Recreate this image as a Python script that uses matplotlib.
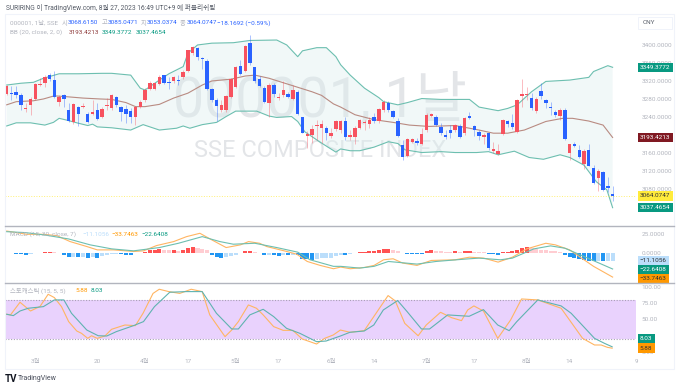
import numpy as np
import matplotlib
matplotlib.use('Agg')
import matplotlib.pyplot as plt
from matplotlib.patches import Rectangle

plt.rcParams['font.family'] = ['Roboto', 'Noto Sans CJK KR']
plt.rcParams['axes.unicode_minus'] = False

# candles, one value per trading day
opens = [3290,3293,3294,3287,3256,3265,3279,3309,3314,3332,
         3321,3272,3287,3255,3227,3262,3261,3245,3245,3255,
         3240,3264,3258,3283,3262,3257,3253,3238,3262,3277,
         3301,3302,3313,3332,3317,3318,3321,3327,3342,3381,
         3392,3369,3364,3301,3277,3255,3255,3284,3305,3352,
         3342,3403,3349,3323,3304,3270,3310,3281,3287,3290,
         3278,3295,3238,3197,3199,3219,3214,3214,3196,3212,
         3210,3229,3195,3194,3214,3225,3223,3238,3229,3254,
         3271,3253,3230,3177,3152,3184,3186,3178,3209,3241,
         3240,3216,3198,3209,3210,3220,3203,3241,3219,3206,
         3195,3203,3163,3156,3201,3229,3225,3206,3286,3288,
         3282,3253,3296,3277,3262,3251,3241,3254,3158,3180,
         3166,3135,3166,3125,3103,3116,3085,3068.6150]
closes = [3307,3289,3287,3266,3259,3279,3313,3313,3327,3323,
          3284,3284,3278,3229,3268,3245,3264,3227,3250,3235,
          3257,3266,3287,3265,3251,3245,3238,3262,3273,3298,
          3314,3314,3327,3314,3314,3327,3319,3339,3387,3394,
          3372,3367,3301,3276,3264,3265,3286,3323,3351,3335,
          3397,3358,3320,3308,3272,3310,3290,3284,3299,3284,
          3298,3246,3204,3201,3212,3221,3224,3204,3204,3229,
          3229,3195,3199,3214,3232,3228,3232,3229,3256,3273,
          3255,3240,3197,3149,3189,3189,3181,3201,3243,3245,
          3221,3204,3195,3203,3221,3195,3236,3237,3209,3197,
          3199,3169,3168,3163,3232,3223,3216,3277,3291,3291,
          3260,3280,3286,3269,3260,3243,3254,3189,3178,3175,
          3149,3164,3131,3092,3119,3077,3082,3064.0747]
highs = [3310,3308,3308,3292,3270,3284,3314,3325,3332,3336,
         3342,3288,3290,3270,3270,3264,3270,3251,3277,3270,
         3261,3281,3290,3286,3264,3266,3258,3264,3277,3303,
         3319,3315,3332,3333,3327,3330,3332,3344,3388,3397,
         3395,3373,3367,3303,3281,3277,3288,3325,3352,3366,
         3399,3421,3351,3329,3308,3314,3314,3292,3318,3295,
         3310,3299,3240,3207,3221,3233,3233,3218,3214,3233,
         3232,3240,3210,3218,3234,3232,3240,3247,3259,3277,
         3275,3255,3236,3188,3192,3192,3192,3214,3247,3247,
         3243,3225,3210,3221,3223,3223,3238,3249,3221,3210,
         3203,3204,3184,3179,3234,3232,3246,3280,3324,3305,
         3292,3284,3314,3280,3273,3254,3258,3258,3180,3184,
         3177,3167,3180,3132,3123,3118,3106,3085.0471]
lows = [3288,3277,3281,3255,3251,3244,3277,3307,3305,3318,
        3281,3264,3261,3227,3224,3218,3258,3225,3244,3233,
        3236,3255,3255,3262,3229,3225,3225,3221,3258,3273,
        3298,3299,3310,3313,3301,3314,3310,3323,3338,3377,
        3366,3345,3299,3273,3231,3251,3251,3281,3303,3332,
        3340,3355,3315,3305,3270,3240,3284,3277,3284,3281,
        3277,3244,3203,3170,3181,3188,3181,3188,3192,3207,
        3203,3188,3188,3180,3212,3210,3214,3225,3226,3251,
        3251,3236,3195,3144,3151,3182,3177,3176,3206,3238,
        3219,3199,3189,3192,3206,3192,3199,3234,3197,3188,
        3180,3166,3160,3155,3199,3217,3212,3203,3262,3277,
        3254,3247,3280,3258,3243,3240,3232,3188,3143,3173,
        3147,3123,3129,3090,3075,3075,3073,3053.0374]

# bollinger bands, read at the bends of each line
bb_up_day = [0,3,5.6,7.7,11,15,20,22,26,28,29,32,34,37,38,40,43,47.5,51,56.6,58.7,61,62,65,67,69,70,
             72,75,78,79,82,84,87,91,97,99,103,105,107,110,113,118,122,123,126,127]
bb_up = [3310,3314,3316,3325,3335,3335,3336,3336,3332,3303,3299,3321,3335,3351,3381,3399,3403,3404,3409,3410,3399,3373,3386,3393,3393,3373,3355,
         3332,3303,3282,3273,3266,3271,3280,3278,3278,3261,3253,3258,3266,3295,3318,3321,3327,3340,3353,3349.3772]
bb_mid_day = [0,2,5.6,7.7,10,12.6,16,19.6,22,25,27,29,32,35,38,41,43,47,50,52,55,58,61,64,66,68.5,70,
              73,77,81,84.4,88.5,94,99,102,105,108.5,113,116.5,118.6,122,125,127]
bb_mid = [3266,3273,3275,3279,3286,3284,3281,3279,3278,3271,3262,3262,3267,3281,3292,3310,3319,3323,3330,3332,3325,3315,3305,3295,3287,3268,3261,
          3244,3233,3227,3221,3218,3220,3210,3203,3203,3210,3229,3236,3236,3230,3221,3193.4213]
bb_low_day = [0,2,5,8,9.8,11,12.6,14.7,17,18,19,22,26,28.6,32,35.6,37,38.4,41,44,46,48,52.4,55,56.6,59.7,61,62.5,65.7,69,70,
              72,74,77,80,82,83.5,87,91,94,98.5,101,103,106.4,109.5,112.5,116,118,121,123.6,125.8,127]
bb_low = [3219,3226,3226,3221,3227,3236,3232,3226,3220,3223,3217,3215,3210,3222,3210,3214,3219,3214,3222,3227,3240,3252,3252,3241,3238,3240,3229,3206,3183,3161,3168,
          3164,3164,3172,3184,3180,3166,3160,3162,3160,3160,3162,3155,3163,3149,3145,3155,3149,3132,3095,3077,3037.4654]

# macd
macd_hist = [-0.5,-0.4,-1.5,-2,-3,-2,-1,-0.5,0.5,0.6,
             0.3,-0.5,-3,-6,-5.8,-6.5,-6,-7,-6.5,-7,
             -5,-3,-2,-1.5,-2.5,-3,-3.2,-1,-0.5,1,
             3,4,5,4,3.5,4,2,3.5,6,7.5,
             6,5,3,-4,-6,-7,-6,-5,-3,-1,
             2,2.2,0.7,-0.5,-4,-3,-4,-4.2,-3,-4,
             -3,-4,-9,-9.2,-10,-9,-8,-7.5,-7,-5,
             -3,-3.2,-1.5,-1,0.3,1,2,2.5,3,5,
             5.2,3,1.5,-1,-2,-2.1,-2.2,-2.3,1.5,3,
             2,1.5,1,0.7,1.5,0.7,1.5,2,1,0.5,
             0.2,-1.5,-2,-3,0.5,1,1.5,4,6,7,
             6,5,4,3,2.5,2,1,-4,-6,-8,
             -9,-10,-11,-11.5,-11,-12,-11.5,-11.1056]
macd_day = [0,4.2,7.7,10.5,13.3,16.8,19,22.4,26.6,28.7,31.4,35,37.7,40.5,43,46,49,50.7,53,54.5,58.7,60.8,63,65.7,68.5,70,
            72,75,77,79,81,83,86,89,94,97,100,103,106,109,113,115,118,123,127]
macd_line = [29.5,25,25,23.2,15,8.2,3.6,3.6,1.4,2.3,9.5,15,21.8,26.4,17.3,6.8,10.5,15,12.7,8.2,1.4,-2.3,-12.3,-17.7,-22.3,-20,
             -22.3,-20.5,-17.7,-10,-8.6,-14.5,-17.7,-10.9,-10,-6.4,-7.7,-13.2,-6.4,5,12.7,10.5,3.6,-19,-33.7463]
signal_day = [0,4,8,13,17.5,22,26.6,32,36,41,44.7,47.5,52,56.6,61,63.6,68.5,70,74,77,80,86,90,96,99,103.5,106,110.5,114,117,121,127]
signal_line = [28.6,27.3,24,18.6,10.5,5,2.3,6.8,12.7,21.8,15,11.4,12.7,6.8,0.5,-10,-19,-19,-21.4,-19,-12.3,-15.9,-12.3,-9.1,-7.7,-10,-7.7,5,9.1,5.9,-5.5,-22.6408]

# stochastic
k_day = [0,0.8,2.8,5,7,8.7,10,11.5,13,14.7,15.7,17,17.8,19,20.6,22,24.8,27,28.6,30.7,32,34,36.3,38.7,41,42.6,45.8,47.2,48.6,50.7,52.4,53.8,56,58,60,62,65,66.7,68.5,70,
         72,75,77,80,81.5,83.5,86.3,88,91,93.3,95.4,96.7,98,100,103,105.7,108,111.4,116.3,120.8,123.3,124.7,126,127]
k_line = [58,57,76.4,63,70,88.7,83.6,69.7,46.7,32.3,28.7,21,25,21,24.6,34.9,41.5,40.5,59.5,90,96.4,92.8,90,96.4,92.8,57,23.6,33.8,46.7,72.3,67.2,57,39,33.3,33.3,20,12.3,21,26.2,33.8,
          30.3,32.8,54.4,86.7,78.5,44,25,41.5,61,52.8,48.2,64.6,70.8,63,21,49.2,81.5,80,67.2,21,10.8,10.8,7.2,5.88]
d_day = [0,1.4,2.8,4.5,7.7,10,12,13.6,16.8,19.2,21,23,26.6,28.7,31,34.2,37.7,41,44,47.2,48.6,51,53.8,56,58.7,61.5,65,67,70,
         72,75,77,79,82,84,87,88.7,92.5,97,100,103,105.4,107,111.4,116.3,118.4,123.3,125.4,127]
d_line = [58,55.9,63,67.2,69.7,80,80,59.5,33.8,25,24.6,31.3,40.5,46.7,69.7,91.8,92.8,92.8,59.5,35.4,35.4,57,65.6,54.4,36.4,28.7,15.9,16.9,24.6,
          30.3,32.3,41.5,64.6,79,62,35.4,35.4,57,54.9,65.1,41.5,32.8,46.7,80,70.8,59.5,21,13.3,8.03]

# time axis
time_ticks = [6,19,29,38,48,57,68,77,88,98,109,118,132]
time_labels = ['3월','20','4월','17','5월','17','6월','14','7월','17','8월','14','9']
price_ticks = [3080,3120,3160,3240,3280,3320,3360,3400]
macd_ticks = [0,25]
stoch_ticks = [0,50,75,100]

W = 680
H = 388
UP = '#F7525F'
DOWN = '#2962FF'
TEAL = '#089981'
BAND = '#6DBFB0'
BROWN = '#B98B82'
ORANGE = '#FF9800'
GREY = '#B2B5BE'
BLUE_TXT = '#2962FF'
SMALL = 4.6


def addPane(fig, top, bottom):
    ax = fig.add_axes([5 / W, 1 - bottom / H, 631 / W, (bottom - top) / H])
    for s in ax.spines.values():
        s.set_visible(False)
    ax.yaxis.tick_right()
    ax.tick_params(axis='y', length=0, labelsize=SMALL, labelcolor=GREY, pad=4)
    ax.tick_params(axis='x', length=0, labelbottom=False)
    ax.set_xlim(-0.35, 131.9)
    return ax


def priceTag(ax, pos, text, bg, fg='white'):
    ax.text(1.0062, pos, text, transform=ax.get_yaxis_transform(), fontsize=SMALL, color=fg,
            va='center', ha='left', zorder=10, clip_on=False,
            bbox=dict(boxstyle='square,pad=0.36', fc=bg, ec='none'))


def figText(fig, x, y, text, **kw):
    fig.text(x / W, 1 - y / H, text, va='center', **kw)


fig = plt.figure(figsize=(6.8, 3.88), dpi=100, facecolor='white')

# painel principal
ax = addPane(fig, 14, 225)
ax.set_ylim(2999, 3467.8)
days = np.arange(len(opens))
opens_a = np.array(opens)
closes_a = np.array(closes)
colors = [UP if c >= o else DOWN for o, c in zip(opens, closes)]

ax.text(0.499, 0.59, '000001, 1날', transform=ax.transAxes, fontsize=40, color='#E3E5E8',
        ha='center', va='center', zorder=0)
ax.text(0.5, 0.355, 'SSE COMPOSITE INDEX', transform=ax.transAxes, fontsize=17, color='#E3E5E8',
        ha='center', va='center', zorder=0)

ax.fill(bb_up_day + bb_low_day[::-1], bb_up + bb_low[::-1], color='#DCEFEF', alpha=0.4, lw=0, zorder=1)
ax.plot(bb_up_day, bb_up, color=BAND, lw=0.8, zorder=2)
ax.plot(bb_low_day, bb_low, color=BAND, lw=0.8, zorder=2)
ax.plot(bb_mid_day, bb_mid, color=BROWN, lw=0.8, zorder=2)
ax.axhline(closes[-1], color='#FFEB3B', lw=0.7, ls=':', alpha=0.7, zorder=2)

ax.vlines(days, lows, highs, colors=colors, lw=0.6, alpha=0.45, zorder=3)
ax.bar(days, np.abs(closes_a - opens_a), bottom=np.minimum(opens_a, closes_a), width=0.72,
       color=colors, lw=0, zorder=4)

ax.set_yticks(price_ticks)
ax.set_yticklabels(['%.4f' % t for t in price_ticks])
priceTag(ax, bb_up[-1], '%.4f' % bb_up[-1], TEAL)
priceTag(ax, bb_mid[-1], '%.4f' % bb_mid[-1], '#801922')
priceTag(ax, closes[-1], '%.4f' % closes[-1], '#FFEB3B', '#333333')
priceTag(ax, bb_low[-1], '%.4f' % bb_low[-1], TEAL)

# macd
ax2 = addPane(fig, 226, 282)
ax2.set_ylim(-40.5, 36.4)
hist_colors = []
for i, v in enumerate(macd_hist):
    rising = i == 0 or v > macd_hist[i - 1]
    if v >= 0:
        hist_colors.append('#FF5252' if rising else '#FFCDD2')
    else:
        hist_colors.append('#BBDEFB' if rising else '#2196F3')
ax2.bar(days, macd_hist, width=0.85, color=hist_colors, lw=0, zorder=2)
ax2.plot(macd_day, macd_line, color='#FFB562', lw=0.8, zorder=3)
ax2.plot(signal_day, signal_line, color='#6DBFB0', lw=0.8, zorder=3)
ax2.set_yticks(macd_ticks)
ax2.set_yticklabels(['0.0000', '25.0000'])
priceTag(ax2, macd_hist[-1], '−11.1056', '#BBDEFB', '#333333')
priceTag(ax2, signal_line[-1] - 0.6, '−22.6408', TEAL)
priceTag(ax2, macd_line[-1] - 1.8, '−33.7463', ORANGE, '#333333')

# estocastico
ax3 = addPane(fig, 283, 353)
ax3.set_ylim(-1.5, 106)
ax3.axhspan(20, 80, color='#E9D2FD', lw=0, zorder=1)
ax3.axhline(80, color='#A9A0B5', lw=0.8, ls=(0, (1, 1.5)), zorder=2)
ax3.axhline(20, color='#A9A0B5', lw=0.8, ls=(0, (1, 1.5)), zorder=2)
ax3.plot(k_day, k_line, color='#FFB562', lw=0.8, zorder=3)
ax3.plot(d_day, d_line, color='#5FB3B0', lw=0.8, zorder=3)
ax3.set_yticks(stoch_ticks)
ax3.set_yticklabels(['%.2f' % t for t in stoch_ticks])
priceTag(ax3, 20, '8.03', TEAL)
priceTag(ax3, 6, '5.88', ORANGE, '#333333')
ax3.set_xticks(time_ticks)
ax3.set_xticklabels(time_labels)
ax3.tick_params(axis='x', labelbottom=True, labelsize=SMALL, labelcolor=GREY, pad=4)

# moldura e separadores
fig.add_artist(Rectangle((5 / W, 1 - 369 / H), 669 / W, 355 / H, transform=fig.transFigure,
                         fill=False, ec='#F0F3FA', lw=0.8))
for y in [225.5, 282.5]:
    fig.add_artist(plt.Line2D([5 / W, 674 / W], [1 - y / H, 1 - y / H], color='#B2B5BE', lw=1.0))

# textos
figText(fig, 6, 8, 'SURIRING 이 TradingView.com, 8월 27, 2023 16:49 UTC+9 에 퍼블리쉬됨', fontsize=4.8, color='#555B66')

figText(fig, 10, 23, '000001, 1날, SSE', fontsize=SMALL, color=GREY)
for x, label in [(62, '시'), (102, '고'), (141, '지'), (180, '종')]:
    figText(fig, x, 23, label, fontsize=SMALL, color=GREY)
for x, value in [(68, '3068.6150'), (108, '3085.0471'), (147, '3053.0374'), (187, '3064.0747'),
                 (217, '−18.1692 (−0.59%)')]:
    figText(fig, x, 23, value, fontsize=SMALL, color=BLUE_TXT)

figText(fig, 10, 32, 'BB (20, close, 2, 0)', fontsize=SMALL, color=GREY)
figText(fig, 69, 32, '3193.4213', fontsize=SMALL, color='#8E3B3B')
figText(fig, 102, 32, '3349.3772', fontsize=SMALL, color=TEAL)
figText(fig, 136, 32, '3037.4654', fontsize=SMALL, color=TEAL)

figText(fig, 10, 234, 'MACD (15, 30, close, 7)', fontsize=SMALL, color=GREY)
figText(fig, 82, 234, '−11.1056', fontsize=SMALL, color='#BBDEFB')
figText(fig, 111, 234, '−33.7463', fontsize=SMALL, color=ORANGE)
figText(fig, 141, 234, '−22.6408', fontsize=SMALL, color=TEAL)

figText(fig, 10, 291, '스토캐스틱 (15, 5, 5)', fontsize=SMALL, color=GREY)
figText(fig, 75, 291, '5.88', fontsize=SMALL, color=ORANGE)
figText(fig, 91, 291, '8.03', fontsize=SMALL, color=TEAL)

fig.add_artist(Rectangle((638 / W, 1 - 29 / H), 34 / W, 12 / H, transform=fig.transFigure,
                         fc='white', ec='#F0F3FA', lw=0.7))
figText(fig, 643, 23, 'CNY', fontsize=SMALL, color='#555B66')

figText(fig, 5, 379, 'TV', fontsize=7, color='#131722', fontweight='bold')
figText(fig, 18, 379, 'TradingView', fontsize=5, color='#4A4F5C')

fig.savefig('out.png', dpi=100)
